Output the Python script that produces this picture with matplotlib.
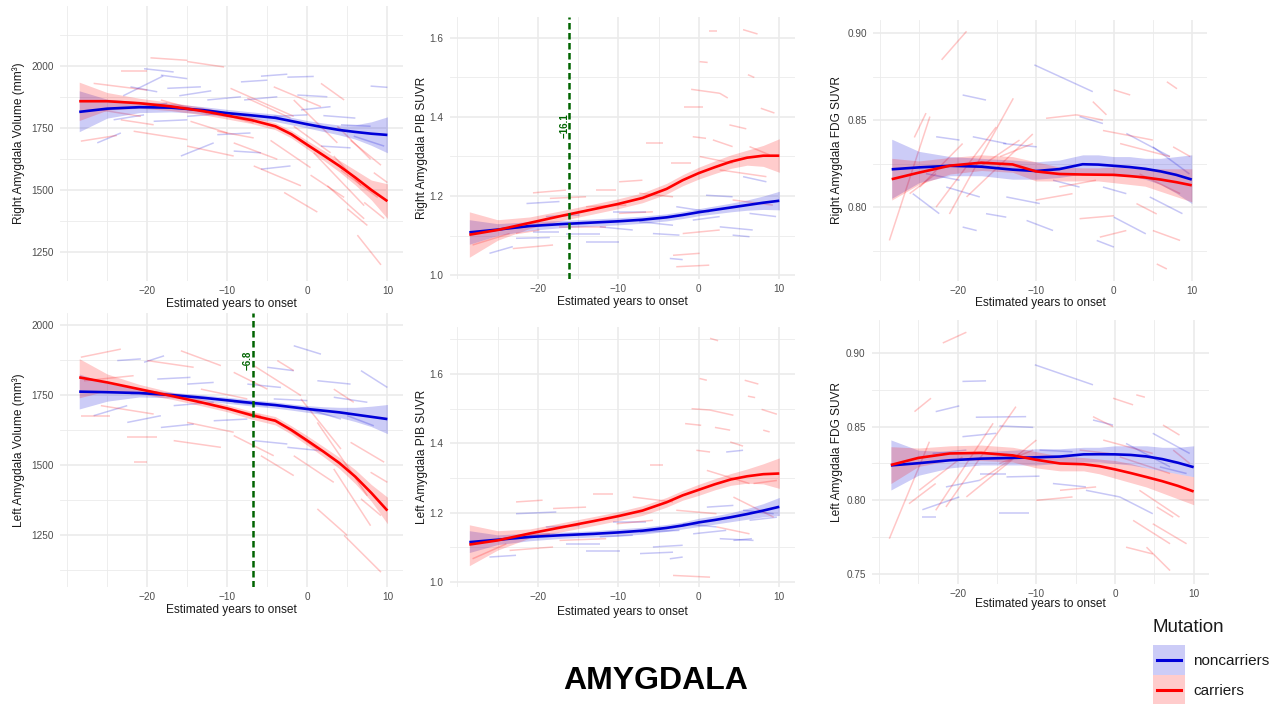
import matplotlib
matplotlib.use("Agg")
import matplotlib.pyplot as plt
from matplotlib.collections import LineCollection
from matplotlib.patches import Rectangle
from matplotlib.lines import Line2D

plt.rcParams['font.family'] = ['Liberation Sans', 'DejaVu Sans']

W, H = 1283, 704

# ---------------- data ----------------
CURVE_X = [-28.5, -25, -21, -17, -13, -10, -7, -4, -2, 0, 2, 4, 6, 8, 10]
X_TICKS = [-20, -10, 0, 10]
X_LABEL = "Estimated years to onset"
GROUPS = ["noncarriers", "carriers"]

# Right amygdala volume
TL_BLUE = [1815, 1828, 1834, 1832, 1822, 1810, 1801, 1791, 1778, 1765, 1753, 1742, 1734, 1727, 1722]
TL_BLUE_LO = [1735, 1790, 1812, 1815, 1808, 1795, 1787, 1776, 1763, 1750, 1736, 1722, 1705, 1680, 1650]
TL_BLUE_HI = [1900, 1866, 1856, 1849, 1836, 1825, 1815, 1806, 1793, 1780, 1770, 1762, 1763, 1775, 1795]
TL_RED = [1858, 1858, 1850, 1837, 1818, 1800, 1782, 1757, 1725, 1682, 1640, 1597, 1550, 1500, 1455]
TL_RED_LO = [1780, 1822, 1830, 1820, 1803, 1786, 1768, 1743, 1710, 1665, 1620, 1573, 1520, 1460, 1385]
TL_RED_HI = [1935, 1893, 1870, 1853, 1833, 1814, 1796, 1771, 1740, 1699, 1660, 1620, 1580, 1540, 1525]
TL_RED_SEGS = [
    (-19.6, -15, 2033, 2023), (-15, -10.4, 2018, 1996), (-23.3, -20, 1978, 1978), (-28.3, -23.8, 1697, 1720),
    (-9.6, -1.7, 1910, 1797), (-1.7, 3.75, 1863, 1690), (0.8, 7.1, 1650, 1437), (6.25, 9.2, 1318, 1198),
    (3.3, 6.7, 1637, 1518), (1.7, 4.6, 1930, 1863), (8.3, 10, 1570, 1530), (-14.6, -10, 1777, 1730),
    (-21.7, -15, 1737, 1703), (-26.7, -20, 1930, 1903), (-9.2, -3.75, 1690, 1624), (-6.7, -0.8, 1597, 1517),
    (-2.9, 1.25, 1490, 1411), (2.5, 7.1, 1517, 1384), (-18.3, -12.5, 1863, 1810), (-12.5, -6.7, 1823, 1770),
    (-15, -9.2, 1677, 1637), (-1.7, 2.9, 1757, 1650), (3.75, 7.9, 1757, 1624), (-23.3, -19.2, 1783, 1763),
    (-4.2, 1.7, 1916, 1836), (5, 7.5, 1424, 1357), (-11.25, -6.7, 1737, 1710), (-25.8, -20.8, 1823, 1797),
    (4.2, 8.8, 1580, 1470), (7.1, 9.6, 1450, 1385), (-4.6, 0.4, 1700, 1590), (0.4, 4.6, 1560, 1470),
    (5.4, 9.2, 1700, 1600), (-7.5, -2.1, 1870, 1790)]
TL_BLUE_SEGS = [
    (-20.4, -16.7, 1989, 1976), (-18.3, -15, 1963, 1949), (-22.1, -18.75, 1916, 1896), (-17.5, -13.3, 1910, 1916),
    (-8.3, -5, 1936, 1943), (-5.8, -2.5, 1959, 1967), (-2.5, 0.8, 1955, 1958), (7.9, 10, 1919, 1914),
    (-1.25, 2.5, 1883, 1876), (-15.8, -11.7, 1637, 1690), (-26.25, -23.3, 1690, 1730), (-5.8, -2.1, 1584, 1597),
    (-0.8, 2.9, 1823, 1836), (4.2, 7.9, 1763, 1757), (-12.5, -8.3, 1863, 1876), (-21.7, -17.5, 1830, 1850),
    (-11.25, -7.1, 1723, 1730), (1.7, 5.4, 1677, 1670), (5.8, 9.6, 1717, 1677), (-15, -10, 1797, 1810),
    (-7.9, -3.75, 1863, 1876), (-24.2, -20.4, 1783, 1803), (-19.2, -15, 1777, 1783), (-4.2, 0, 1797, 1803),
    (-9.2, -5.8, 1657, 1650), (-23, -18, 1880, 1960), (-16, -12, 1880, 1900), (2, 6, 1800, 1790)]

# Right amygdala PIB
TM_BLUE = [1.108, 1.115, 1.124, 1.129, 1.133, 1.136, 1.140, 1.146, 1.152, 1.159, 1.165, 1.171, 1.177, 1.183, 1.188]
TM_BLUE_LO = [1.078, 1.100, 1.113, 1.120, 1.124, 1.127, 1.131, 1.137, 1.143, 1.150, 1.155, 1.160, 1.164, 1.166, 1.165]
TM_BLUE_HI = [1.140, 1.130, 1.135, 1.138, 1.142, 1.145, 1.149, 1.155, 1.161, 1.168, 1.175, 1.182, 1.190, 1.200, 1.212]
TM_RED = [1.102, 1.114, 1.132, 1.150, 1.167, 1.180, 1.195, 1.218, 1.240, 1.258, 1.273, 1.287, 1.297, 1.302, 1.302]
TM_RED_LO = [1.045, 1.088, 1.118, 1.138, 1.155, 1.168, 1.183, 1.205, 1.226, 1.243, 1.257, 1.270, 1.278, 1.275, 1.260]
TM_RED_HI = [1.160, 1.140, 1.147, 1.163, 1.180, 1.193, 1.208, 1.232, 1.254, 1.273, 1.289, 1.304, 1.316, 1.328, 1.345]
TM_RED_SEGS = [
    (1.3, 2.3, 1.617, 1.617), (5.5, 7.3, 1.621, 1.61), (0.1, 1.1, 1.54, 1.538), (6.1, 6.9, 1.507, 1.50),
    (-0.95, 2.6, 1.47, 1.46), (2.6, 3.6, 1.46, 1.448), (-1.8, 0.5, 1.426, 1.426), (7.7, 9.4, 1.422, 1.41),
    (3.8, 5.9, 1.38, 1.37), (-0.75, 0.9, 1.35, 1.346), (-6.5, -4.5, 1.335, 1.335), (1.75, 4.2, 1.342, 1.325),
    (6.3, 8.8, 1.325, 1.304), (-20.6, -16.5, 1.208, 1.215), (-18.5, -14, 1.194, 1.198), (-12.75, -10.3, 1.215, 1.215),
    (-9.9, -7, 1.236, 1.24), (-3.2, 0.1, 1.05, 1.055), (-2.8, 1.3, 1.021, 1.025), (-22.7, -19.8, 1.105, 1.114),
    (-23.1, -18.1, 1.067, 1.076), (-28.1, -23.5, 1.076, 1.105), (-9.9, -5.7, 1.156, 1.16), (0.1, 4.2, 1.30, 1.283),
    (-7.4, -3.2, 1.207, 1.198), (2.6, 8.4, 1.266, 1.249), (4.2, 9.2, 1.19, 1.177), (-14, -9, 1.173, 1.177),
    (-2, 2.6, 1.105, 1.114), (-17.3, -11.5, 1.122, 1.122), (-3.5, -1, 1.283, 1.283)]
TM_BLUE_SEGS = [
    (-26, -23.1, 1.055, 1.072), (-22.7, -18.5, 1.093, 1.095), (-21.4, -17.3, 1.181, 1.186), (-14, -9.9, 1.084, 1.084),
    (-3.6, -2, 1.042, 1.039), (4.2, 6.3, 1.101, 1.097), (0.9, 4.2, 1.202, 1.198), (5.5, 8.4, 1.249, 1.236),
    (-12.3, -8.2, 1.122, 1.114), (-7.4, -3.2, 1.135, 1.126), (-2.8, 1.3, 1.173, 1.16), (-19, -14.8, 1.148, 1.152),
    (-24.8, -21.4, 1.114, 1.122), (6.3, 9.6, 1.156, 1.148), (-16.5, -12.3, 1.105, 1.105), (-5.7, -2.4, 1.105, 1.101),
    (-0.75, 2.6, 1.139, 1.148), (-10.7, -6.5, 1.16, 1.16), (2.6, 6.7, 1.122, 1.114), (-20.6, -17.3, 1.11, 1.11)]

# Right amygdala FDG
TR_BLUE = [0.8217, 0.8228, 0.8237, 0.8232, 0.8215, 0.8207, 0.8218, 0.8246, 0.8244, 0.8237, 0.8230, 0.8220, 0.8205, 0.8185, 0.8158]
TR_BLUE_LO = [0.805, 0.814, 0.818, 0.818, 0.816, 0.816, 0.817, 0.819, 0.819, 0.818, 0.818, 0.816, 0.813, 0.808, 0.802]
TR_BLUE_HI = [0.839, 0.832, 0.829, 0.828, 0.827, 0.826, 0.827, 0.830, 0.830, 0.829, 0.829, 0.828, 0.828, 0.829, 0.830]
TR_RED = [0.816, 0.8198, 0.8238, 0.8255, 0.8245, 0.8205, 0.8190, 0.8187, 0.8186, 0.8185, 0.8178, 0.8170, 0.8158, 0.8143, 0.8125]
TR_RED_LO = [0.804, 0.813, 0.819, 0.821, 0.820, 0.815, 0.815, 0.815, 0.815, 0.814, 0.813, 0.812, 0.809, 0.806, 0.803]
TR_RED_HI = [0.828, 0.8265, 0.8285, 0.830, 0.829, 0.826, 0.823, 0.8225, 0.8225, 0.823, 0.8225, 0.822, 0.822, 0.822, 0.822]
TR_RED_SEGS = [
    (-22.1, -18.9, 0.8846, 0.901), (-28.8, -23.6, 0.7808, 0.852), (-25.6, -24.1, 0.840, 0.854), (-22.8, -15.1, 0.80, 0.846),
    (-21.1, -12.9, 0.796, 0.8625), (-18.9, -10.4, 0.8058, 0.842), (-24.9, -19.4, 0.8115, 0.8365), (-17.2, -12.1, 0.823, 0.8385),
    (-8.7, -4.8, 0.851, 0.853), (-4.8, -1.4, 0.853, 0.85), (-2.7, -0.95, 0.8606, 0.853), (0, 2.1, 0.8673, 0.8644),
    (6.8, 8.1, 0.872, 0.868), (-1.4, 5, 0.844, 0.8385), (0.8, 7.2, 0.8365, 0.829), (3.3, 8.5, 0.819, 0.8077),
    (-7, -2.3, 0.8115, 0.8154), (-10, -5.3, 0.804, 0.8077), (-4.4, 0, 0.7933, 0.795), (-1.8, 1.6, 0.7827, 0.7865),
    (5, 8.5, 0.7865, 0.7808), (5.5, 6.8, 0.7673, 0.7644), (2.9, 5.5, 0.802, 0.796), (7.6, 9.8, 0.8346, 0.829),
    (-14.6, -10.4, 0.829, 0.8365), (-26.2, -22.8, 0.8077, 0.8192)]
TR_BLUE_SEGS = [
    (-10.2, -2.7, 0.8817, 0.8663), (-19.4, -16.4, 0.8644, 0.8615), (-22.8, -19.8, 0.8404, 0.8385), (-14.2, -9.9, 0.8365, 0.8346),
    (-4.4, -1.4, 0.852, 0.848), (1.6, 7.2, 0.8423, 0.829), (5, 9.7, 0.8346, 0.819), (4.6, 8.8, 0.8058, 0.7962),
    (0, 4.1, 0.7942, 0.7846), (-2.2, 0, 0.7808, 0.777), (-11.2, -7.8, 0.7923, 0.7865), (-19.4, -17.6, 0.7885, 0.7865),
    (-16.4, -13.8, 0.7962, 0.7942), (-25.8, -22.4, 0.8077, 0.7962), (-21.5, -17.2, 0.8115, 0.8058), (-13.8, -9.5, 0.8058, 0.802),
    (-7.8, -4.4, 0.8154, 0.8115), (-1.4, 1.6, 0.8115, 0.8077), (-24.1, -19.8, 0.8192, 0.8154), (-18.1, -13.8, 0.8404, 0.8365)]

# Left amygdala volume
BL_BLUE = [1762, 1760, 1757, 1750, 1740, 1731, 1722, 1714, 1707, 1700, 1694, 1688, 1680, 1672, 1664]
BL_BLUE_LO = [1700, 1728, 1743, 1740, 1730, 1720, 1711, 1703, 1696, 1688, 1680, 1670, 1655, 1637, 1612]
BL_BLUE_HI = [1825, 1792, 1771, 1760, 1750, 1742, 1733, 1725, 1718, 1712, 1708, 1706, 1706, 1710, 1716]
BL_RED = [1813, 1795, 1771, 1747, 1722, 1702, 1678, 1658, 1625, 1587, 1548, 1507, 1458, 1400, 1337]
BL_RED_LO = [1740, 1765, 1755, 1735, 1710, 1690, 1664, 1643, 1610, 1570, 1530, 1487, 1433, 1370, 1290]
BL_RED_HI = [1880, 1825, 1788, 1760, 1735, 1715, 1692, 1673, 1640, 1604, 1566, 1527, 1483, 1430, 1385]
BL_RED_SEGS = [
    (-28.3, -23.3, 1885, 1914), (-15.8, -10.8, 1908, 1855), (-9.2, -5, 1831, 1771), (-6.7, -0.8, 1855, 1748),
    (-3.75, -1.7, 1873, 1837), (-0.8, 4.2, 1736, 1557), (1.25, 7.5, 1652, 1390), (3.3, 7.9, 1486, 1283),
    (4.6, 9.2, 1248, 1117), (6.7, 9.2, 1379, 1319), (7.9, 10, 1474, 1438), (1.25, 5, 1343, 1248),
    (3.3, 5.8, 1771, 1724), (-21.7, -20, 1510, 1510), (-25.8, -19.2, 1712, 1682), (-22.5, -18.75, 1599, 1599),
    (-16.7, -10.8, 1587, 1563), (-15, -9.2, 1652, 1617), (-13.3, -7.5, 1771, 1736), (-20, -14.2, 1873, 1849),
    (-4.2, 1.25, 1664, 1557), (-9.2, -4.2, 1605, 1533), (-5.8, -1.7, 1533, 1462), (-1.7, 3.3, 1533, 1438),
    (-28.3, -24.6, 1676, 1676), (-27.9, -21.7, 1801, 1819), (5.4, 9.6, 1581, 1510), (-11.7, -5.8, 1712, 1676)]
BL_BLUE_SEGS = [
    (-1.7, 1.7, 1926, 1896), (6.7, 10, 1837, 1777), (-23.75, -20.8, 1873, 1879), (-20.4, -17.9, 1867, 1890),
    (-5, -1.7, 1849, 1837), (1.25, 5.4, 1801, 1789), (-26.7, -22.5, 1676, 1712), (-22.5, -18.3, 1652, 1676),
    (-18.3, -14.2, 1634, 1646), (-16.7, -11.7, 1712, 1724), (-18.75, -14.6, 1807, 1813), (-11.7, -7.5, 1658, 1664),
    (-7.5, -3.3, 1789, 1777), (-6.7, -2.5, 1587, 1575), (-2.5, 1.7, 1563, 1551), (0, 4.2, 1700, 1664),
    (5, 8.3, 1676, 1640), (-15, -11.7, 1789, 1795), (-9.2, -5, 1724, 1712), (3.3, 7.5, 1742, 1724),
    (-22.1, -18.75, 1754, 1760), (-4.2, 0, 1736, 1730)]

# Left amygdala PIB
BM_BLUE = [1.115, 1.122, 1.130, 1.135, 1.139, 1.143, 1.148, 1.156, 1.163, 1.172, 1.179, 1.187, 1.196, 1.206, 1.217]
BM_BLUE_LO = [1.085, 1.108, 1.119, 1.126, 1.130, 1.133, 1.138, 1.146, 1.153, 1.160, 1.167, 1.174, 1.181, 1.188, 1.192]
BM_BLUE_HI = [1.148, 1.136, 1.141, 1.144, 1.148, 1.153, 1.158, 1.166, 1.173, 1.184, 1.191, 1.200, 1.212, 1.226, 1.244]
BM_RED = [1.108, 1.120, 1.140, 1.158, 1.176, 1.190, 1.206, 1.230, 1.250, 1.266, 1.282, 1.296, 1.305, 1.311, 1.313]
BM_RED_LO = [1.047, 1.092, 1.127, 1.145, 1.163, 1.177, 1.192, 1.216, 1.236, 1.250, 1.266, 1.279, 1.285, 1.283, 1.270]
BM_RED_HI = [1.165, 1.148, 1.153, 1.171, 1.189, 1.203, 1.220, 1.244, 1.264, 1.282, 1.298, 1.313, 1.326, 1.341, 1.358]
BM_RED_SEGS = [
    (1.4, 2.4, 1.703, 1.696), (0.1, 1, 1.587, 1.582), (5.7, 7.4, 1.582, 1.571), (6.1, 7, 1.536, 1.532),
    (-0.9, 1.4, 1.50, 1.496), (1.4, 4.3, 1.496, 1.481), (7.8, 9.7, 1.498, 1.484), (-1.7, 0.3, 1.457, 1.452),
    (2, 3.9, 1.446, 1.438), (8, 8.8, 1.438, 1.433), (-0.3, 1.4, 1.38, 1.375), (3.9, 5.5, 1.404, 1.392),
    (-6.1, -4.4, 1.337, 1.337), (-22.7, -19.4, 1.231, 1.236), (-18.1, -14, 1.212, 1.216), (-13.2, -10.7, 1.255, 1.255),
    (-3.2, 1.4, 1.019, 1.014), (-23.1, -18.5, 1.13, 1.139), (-23.5, -18.1, 1.091, 1.101), (-28.1, -23.9, 1.067, 1.11),
    (1, 6.3, 1.322, 1.284), (4.3, 9.3, 1.245, 1.187), (-8.2, -3.2, 1.245, 1.231), (-2.8, 2.2, 1.207, 1.197),
    (-10.2, -5.7, 1.168, 1.178), (-17.3, -11.5, 1.12, 1.125), (2.2, 6.3, 1.159, 1.139), (6.8, 9.7, 1.284, 1.293)]
BM_BLUE_SEGS = [
    (-26, -22.7, 1.072, 1.077), (-22.7, -17.7, 1.197, 1.202), (3.4, 5.5, 1.375, 1.38), (4.3, 6.6, 1.12, 1.125),
    (-3.6, -2, 1.067, 1.072), (-7.3, -3.2, 1.082, 1.086), (-14, -9.8, 1.089, 1.089), (1, 4.3, 1.216, 1.221),
    (5.5, 9.3, 1.207, 1.197), (-12.3, -8.2, 1.13, 1.135), (-7.3, -2.4, 1.144, 1.149), (-2, 2.2, 1.168, 1.159),
    (-19, -14.8, 1.159, 1.163), (-24.8, -20.6, 1.12, 1.13), (-16.5, -12.3, 1.11, 1.11), (-0.7, 3.4, 1.139, 1.149),
    (6.3, 9.7, 1.178, 1.187), (-10.7, -6.5, 1.173, 1.173), (2.6, 6.8, 1.125, 1.12), (-5.7, -2, 1.101, 1.106)]

# Left amygdala FDG
BR_BLUE = [0.8237, 0.8252, 0.8272, 0.8283, 0.8288, 0.8292, 0.8297, 0.8312, 0.8313, 0.8312, 0.8308, 0.8298, 0.8280, 0.8255, 0.8225]
BR_BLUE_LO = [0.807, 0.817, 0.822, 0.824, 0.824, 0.824, 0.825, 0.826, 0.826, 0.825, 0.824, 0.822, 0.820, 0.818, 0.816]
BR_BLUE_HI = [0.841, 0.834, 0.833, 0.833, 0.834, 0.835, 0.835, 0.836, 0.836, 0.837, 0.837, 0.837, 0.836, 0.836, 0.837]
BR_RED = [0.824, 0.8288, 0.8318, 0.8322, 0.8305, 0.8275, 0.8250, 0.8245, 0.8232, 0.8210, 0.8185, 0.8158, 0.8130, 0.8098, 0.8060]
BR_RED_LO = [0.8114, 0.823, 0.827, 0.827, 0.826, 0.822, 0.820, 0.820, 0.818, 0.815, 0.812, 0.809, 0.805, 0.801, 0.797]
BR_RED_HI = [0.8364, 0.8355, 0.837, 0.8375, 0.836, 0.833, 0.830, 0.829, 0.828, 0.827, 0.825, 0.822, 0.820, 0.818, 0.816]
BR_RED_SEGS = [
    (-21.9, -18.9, 0.9068, 0.9141), (-28.7, -23.6, 0.7739, 0.8398), (-25.5, -23.4, 0.8602, 0.8693), (-22.8, -15.5, 0.7932, 0.8523),
    (-21.5, -12.6, 0.7955, 0.8636), (-18.9, -10, 0.8023, 0.8409), (-24.9, -19.4, 0.8068, 0.8295), (-17.2, -12.1, 0.8136, 0.8318),
    (-2.8, -0.25, 0.8568, 0.85), (-0.25, 2.3, 0.8693, 0.8648), (2.7, 3.8, 0.8716, 0.87), (6.1, 8.2, 0.8511, 0.8443),
    (-1.5, 4.8, 0.8409, 0.8318), (0.6, 7, 0.8295, 0.8182), (3.1, 8.2, 0.8068, 0.7886), (-7, -2.4, 0.8068, 0.8091),
    (-10, -5.4, 0.80, 0.8023), (1.4, 4.8, 0.7682, 0.7636), (2.3, 7, 0.7864, 0.7705), (4, 7, 0.7682, 0.7523),
    (5.3, 7.4, 0.7955, 0.7886), (7.4, 9.5, 0.8341, 0.825), (-14.7, -10.4, 0.825, 0.8341), (-26.2, -22.8, 0.7977, 0.8114),
    (-4.5, -0.7, 0.8341, 0.8318), (4.8, 9.1, 0.7841, 0.7705)]
BR_BLUE_SEGS = [
    (-10.2, -2.8, 0.892, 0.8784), (-19.4, -16.4, 0.8807, 0.8811), (-22.8, -19.8, 0.8602, 0.8641), (-17.7, -11.3, 0.8564, 0.8568),
    (-14.7, -10.4, 0.8505, 0.8495), (-2.8, -0.25, 0.8545, 0.8511), (1.4, 7, 0.8386, 0.8227), (4.8, 9.5, 0.8455, 0.8318),
    (0.6, 4.8, 0.8023, 0.7909), (-14.7, -10.9, 0.7914, 0.7914), (-24.5, -22.8, 0.7886, 0.7886), (-24.5, -19.8, 0.7936, 0.8023),
    (-21.5, -17.2, 0.8091, 0.8136), (-17.2, -13.8, 0.8182, 0.8182), (-13.8, -9.6, 0.8159, 0.8164), (-7.9, -3.7, 0.8114, 0.8091),
    (-3.7, 0.6, 0.8068, 0.8023), (-19.4, -15.1, 0.8432, 0.8455), (-23.2, -18.9, 0.8318, 0.8341), (-9.6, -5.4, 0.8341, 0.833),
    (5.7, 9.1, 0.8227, 0.8182)]

# change points (vertical dashed lines)
TM_CHANGE = -16.1
BL_CHANGE = -6.8

# ---------------- styling ----------------
BLUE = "#0000d8"
RED = "#ff0000"
GREEN = "#006400"
GRID = "#ebebeb"
TICKC = "#4d4d4d"

fig = plt.figure(figsize=(W / 100, H / 100), dpi=100)


def box(l, t, r, b):
    return [l / W, 1 - b / H, (r - l) / W, (b - t) / H]


def panel(pbox, ylim, yticks, ylabels, yminor, ylabel, ylab_x, xlab_y, blue, red, blue_segs, red_segs):
    ax = fig.add_axes(box(*pbox))
    ax.set_xlim(-30.9, 11.95)
    ax.set_ylim(*ylim)
    for s in ax.spines.values():
        s.set_visible(False)
    for v in [-30, -25, -15, -5, 5]:
        ax.axvline(v, color=GRID, lw=0.6, zorder=0)
    for v in X_TICKS:
        ax.axvline(v, color=GRID, lw=1.2, zorder=0)
    for v in yminor:
        ax.axhline(v, color=GRID, lw=0.6, zorder=0)
    for v in yticks:
        ax.axhline(v, color=GRID, lw=1.2, zorder=0)
    ax.set_xticks(X_TICKS)
    ax.set_xticklabels(["\u221220", "\u221210", "0", "10"])
    ax.set_yticks(yticks)
    ax.set_yticklabels(ylabels)
    ax.tick_params(length=0, labelsize=7.2, labelcolor=TICKC)
    ax.tick_params(axis='x', pad=3.5)
    ax.tick_params(axis='y', pad=4.5)

    bsegs = [[(a, c), (b, d)] for a, b, c, d in blue_segs]
    rsegs = [[(a, c), (b, d)] for a, b, c, d in red_segs]
    ax.add_collection(LineCollection(bsegs, colors=BLUE, alpha=0.22, linewidths=1.1, zorder=2))
    ax.add_collection(LineCollection(rsegs, colors=RED, alpha=0.22, linewidths=1.1, zorder=2))

    for (m, lo, hi), col in [(blue, BLUE), (red, RED)]:
        ax.fill_between(CURVE_X, lo, hi, color=col, alpha=0.2, lw=0, zorder=3)
        ax.plot(CURVE_X, m, color=col, lw=1.9, zorder=4, solid_capstyle='butt')

    cy = (pbox[1] + pbox[3]) / 2
    fig.text(ylab_x / W, 1 - cy / H, ylabel, rotation=90, ha='center', va='center', fontsize=8.6, color='#1a1a1a')
    cx = ax.transData.transform((-9.5, 0))[0]
    fig.text(((pbox[0] + pbox[2]) / 2 - 0) / W, 1 - xlab_y / H, X_LABEL, ha='center', va='center', fontsize=8.6,
             color='#1a1a1a')
    return ax


ax1 = panel((60, 6, 403, 281), (1133, 2242), [1250, 1500, 1750, 2000], ["1250", "1500", "1750", "2000"],
            [1375, 1625, 1875, 2125], "Right Amygdala Volume (mm\u00b3)", 19, 304,
            (TL_BLUE, TL_BLUE_LO, TL_BLUE_HI), (TL_RED, TL_RED_LO, TL_RED_HI), TL_BLUE_SEGS, TL_RED_SEGS)
ax2 = panel((450, 17, 795, 279), (0.99, 1.653), [1.0, 1.2, 1.4, 1.6], ["1.0", "1.2", "1.4", "1.6"],
            [1.1, 1.3, 1.5], "Right Amygdala PIB SUVR", 422, 302,
            (TM_BLUE, TM_BLUE_LO, TM_BLUE_HI), (TM_RED, TM_RED_LO, TM_RED_HI), TM_BLUE_SEGS, TM_RED_SEGS)
ax3 = panel((873, 20, 1207, 281), (0.7575, 0.9075), [0.80, 0.85, 0.90], ["0.80", "0.85", "0.90"],
            [0.775, 0.825, 0.875], "Right Amygdala FDG SUVR", 837, 303,
            (TR_BLUE, TR_BLUE_LO, TR_BLUE_HI), (TR_RED, TR_RED_LO, TR_RED_HI), TR_BLUE_SEGS, TR_RED_SEGS)
ax4 = panel((60, 313, 403, 587), (1064, 2043), [1250, 1500, 1750, 2000], ["1250", "1500", "1750", "2000"],
            [1125, 1375, 1625, 1875], "Left Amygdala Volume (mm\u00b3)", 19, 610,
            (BL_BLUE, BL_BLUE_LO, BL_BLUE_HI), (BL_RED, BL_RED_LO, BL_RED_HI), BL_BLUE_SEGS, BL_RED_SEGS)
ax5 = panel((450, 327, 795, 587), (0.9856, 1.7356), [1.0, 1.2, 1.4, 1.6], ["1.0", "1.2", "1.4", "1.6"],
            [1.1, 1.3, 1.5, 1.7], "Left Amygdala PIB SUVR", 422, 612,
            (BM_BLUE, BM_BLUE_LO, BM_BLUE_HI), (BM_RED, BM_RED_LO, BM_RED_HI), BM_BLUE_SEGS, BM_RED_SEGS)
ax6 = panel((872, 320, 1209, 584), (0.7432, 0.9224), [0.75, 0.80, 0.85, 0.90], ["0.75", "0.80", "0.85", "0.90"],
            [0.775, 0.825, 0.875], "Left Amygdala FDG SUVR", 837, 604,
            (BR_BLUE, BR_BLUE_LO, BR_BLUE_HI), (BR_RED, BR_RED_LO, BR_RED_HI), BR_BLUE_SEGS, BR_RED_SEGS)

# change-point lines
for ax, cp, ytxt in [(ax2, TM_CHANGE, 1.377), (ax4, BL_CHANGE, 1875)]:
    ax.axvline(cp, color=GREEN, lw=1.8, linestyle=(0, (2.6, 1.4)), zorder=5)
    ax.text(cp - 0.6, ytxt, "\u2212" + f"{abs(cp):.1f}", rotation=90, ha='center', va='center',
            color=GREEN, fontsize=7, fontweight='bold', zorder=6)

# legend (drawn in figure pixel space)
fig.text(1153 / W, 1 - 627 / H, "Mutation", fontsize=13.5, ha='left', va='center', color='#1a1a1a')
for i, (lab, col) in enumerate(zip(GROUPS, [BLUE, RED])):
    top = 645 + 30 * i
    fig.patches.append(Rectangle((1153 / W, 1 - (top + 30) / H), 32 / W, 30 / H, transform=fig.transFigure,
                                 facecolor=col, alpha=0.2, edgecolor='none'))
    fig.lines.append(Line2D([1157 / W, 1181 / W], [1 - (top + 15) / H] * 2, transform=fig.transFigure,
                            color=col, lw=2.2))
    fig.text(1193 / W, 1 - (top + 16) / H, lab, fontsize=11, ha='left', va='center', color='#1a1a1a')

fig.text(656 / W, 1 - 681 / H, "AMYGDALA", fontsize=23, fontweight='bold', ha='center', va='center', color='black')

fig.savefig("out.png", dpi=100)
